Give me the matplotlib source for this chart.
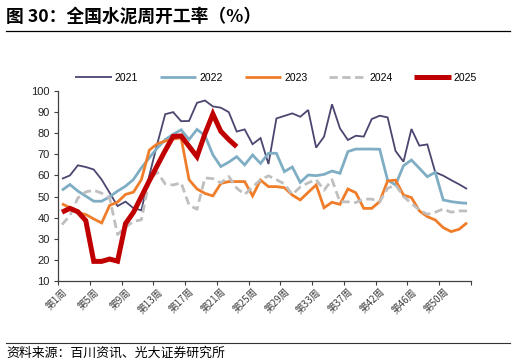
import numpy as np
import matplotlib
matplotlib.use("Agg")
import matplotlib.pyplot as plt
from matplotlib.ticker import FixedLocator, NullFormatter

plt.rcParams['font.family'] = ['Liberation Sans', 'Noto Sans CJK SC', 'DejaVu Sans']

# 周次（第41周缺失）
weeks = list(range(1, 41)) + list(range(42, 54))
week_labels = ['第%d周' % w for w in weeks]

y2021 = [58.4, 60.0, 64.8, 64.0, 62.8, 58.0, 51.8, 45.5, 47.6, 44.5,
         43.5, 60.0, 75.0, 89.0, 90.0, 85.7, 85.8, 94.4, 95.5, 92.7,
         92.1, 90.0, 80.8, 81.8, 74.8, 77.7, 65.4, 87.0, 88.2, 89.4,
         87.8, 91.0, 73.2, 78.4, 93.7, 82.3, 76.8, 78.8, 78.4, 86.7,
         88.3, 87.5, 71.6, 66.5, 82.0, 74.1, 74.7, 61.5, 59.9, 57.8,
         55.8, 53.6]
y2022 = [53.0, 55.7, 52.6, 50.2, 47.8, 47.8, 49.9, 52.6, 54.9, 58.1,
         63.6, 68.4, 73.0, 77.0, 79.5, 81.6, 77.0, 81.8, 78.9, 69.8,
         64.2, 66.3, 68.9, 65.0, 69.7, 65.7, 70.5, 70.5, 61.8, 64.0,
         56.7, 60.2, 59.9, 60.5, 62.1, 61.0, 71.3, 72.5, 72.5, 72.5,
         72.4, 57.8, 55.5, 64.6, 67.3, 63.4, 59.4, 61.5, 48.4, 47.6,
         47.1, 46.8]
y2023 = [46.6, 44.7, 42.3, 41.5, 39.4, 37.5, 45.8, 47.4, 51.0, 52.1,
         58.0, 72.0, 75.0, 76.3, 77.2, 77.8, 58.0, 53.6, 51.5, 50.3,
         56.2, 57.1, 57.1, 57.1, 50.3, 57.8, 54.7, 54.7, 54.2, 50.7,
         48.4, 52.0, 55.5, 44.7, 47.3, 46.3, 53.6, 51.8, 44.4, 44.4,
         47.6, 57.4, 57.8, 50.7, 49.5, 43.2, 40.5, 38.9, 35.3, 33.4,
         34.5, 37.6]
y2024 = [36.7, 41.0, 49.3, 52.2, 53.0, 51.6, 49.3, 32.0, 35.5, 38.2,
         39.0, 58.0, 61.5, 56.0, 55.5, 56.5, 46.0, 44.0, 58.8, 58.5,
         56.5, 59.5, 54.0, 51.0, 54.5, 58.0, 59.8, 58.0, 56.0, 51.0,
         54.5, 56.5, 58.0, 53.0, 58.0, 47.5, 47.5, 47.2, 48.8, 48.8,
         47.6, 53.9, 55.5, 50.0, 46.8, 43.6, 41.6, 42.6, 44.1, 42.6,
         43.2, 43.2]
y2025 = [42.6, 44.4, 42.8, 38.6, 19.3, 19.3, 20.4, 19.4, 37.2, 42.5,
         50.0, 57.5, 64.7, 71.8, 78.5, 78.7, 73.8, 68.9, 79.7, 89.1,
         80.9, 77.0, 73.6]

series = [
    ('2021', y2021, '#4B4670', 1.3, '-'),
    ('2022', y2022, '#7FAEC4', 2.0, '-'),
    ('2023', y2023, '#F07D2A', 2.0, '-'),
    ('2024', y2024, '#BFBFBF', 2.0, (0, (3, 1.6))),
    ('2025', y2025, '#C00000', 3.6, '-'),
]

fig = plt.figure(figsize=(5.16, 3.63), dpi=100)
ax = fig.add_axes([58 / 516, 1 - 281 / 363, 413 / 516, 190 / 363])

for name, vals, color, lw, ls in series:
    x = np.arange(len(vals))
    ax.plot(x, vals, color=color, lw=lw, ls=ls, label=name,
            solid_joinstyle='miter', solid_capstyle='butt')

n = len(weeks)
ax.set_xlim(-0.5, n - 0.5)
ax.set_ylim(10, 100)
ax.set_yticks(range(10, 101, 10))

# 刻度线在类别之间，标签每隔4个
ax.xaxis.set_major_locator(FixedLocator(np.arange(-0.5, n, 4)))
ax.xaxis.set_major_formatter(NullFormatter())
lab_pos = list(range(0, n - 3, 4))
ax.xaxis.set_minor_locator(FixedLocator(lab_pos))
ax.set_xticklabels([week_labels[i] for i in lab_pos], minor=True,
                   rotation=45, ha='right', rotation_mode='anchor',
                   fontsize=7, color='#404040',
                   family=['Noto Sans CJK SC', 'DejaVu Sans'])
ax.tick_params(axis='x', which='minor', length=0, pad=4)
ax.tick_params(axis='x', which='major', length=3, width=0.8, color='#404040')
ax.tick_params(axis='y', length=3, width=0.8, color='#404040',
               labelsize=8, labelcolor='#222222', pad=3)

for s in ['top', 'right']:
    ax.spines[s].set_visible(False)
for s in ['left', 'bottom']:
    ax.spines[s].set_color('#404040')
    ax.spines[s].set_linewidth(0.9)

leg = fig.legend(loc='center', bbox_to_anchor=(0.535, 1 - 78 / 363), ncol=5,
                 frameon=False, fontsize=7.5, handlelength=3.5,
                 columnspacing=2.1, handletextpad=0.3)

fig.text(6 / 516, 1 - 17 / 363, '图 30：全国水泥周开工率（%）', fontsize=12.8,
         fontweight='bold', va='center', ha='left',
         family=['Noto Sans CJK SC', 'DejaVu Sans'])
fig.add_artist(plt.Line2D([6 / 516, 510 / 516], [1 - 31 / 363, 1 - 31 / 363],
                          color='black', lw=0.9))
fig.add_artist(plt.Line2D([6 / 516, 510 / 516], [1 - 343 / 363, 1 - 343 / 363],
                          color='#333333', lw=0.8))
fig.text(6 / 516, 1 - 353 / 363, '资料来源：百川资讯、光大证券研究所', fontsize=9.3,
         va='center', ha='left', family=['Noto Sans CJK SC', 'DejaVu Sans'])

fig.savefig('out.png', dpi=100)
